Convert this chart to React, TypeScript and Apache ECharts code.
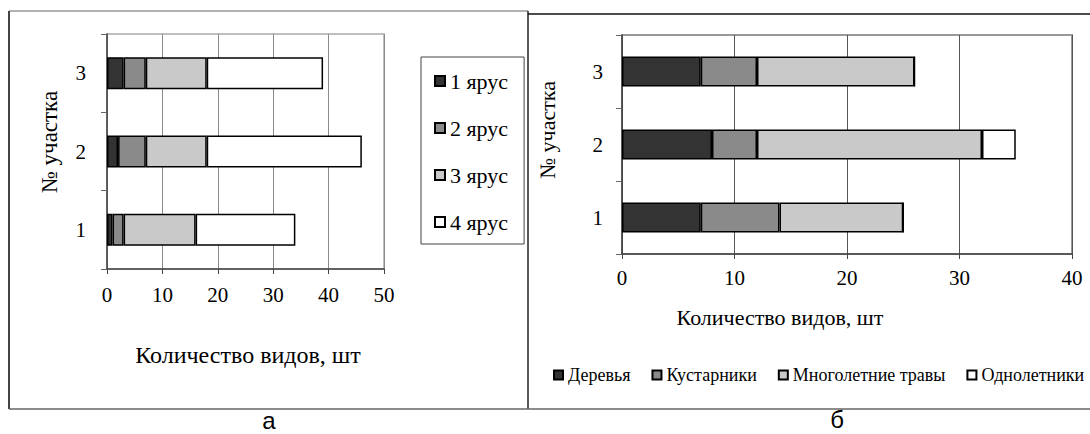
import React, { useEffect, useRef } from "react";
import * as echarts from "echarts";

const plots = ["1", "2", "3"];
const tierNames = ["1 ярус", "2 ярус", "3 ярус", "4 ярус"];
const tier1 = [1, 2, 3];
const tier2 = [2, 5, 4];
const tier3 = [13, 11, 11];
const tier4 = [18, 28, 21];

const lifeFormNames = ["Деревья", "Кустарники", "Многолетние травы", "Однолетники"];
const trees = [7, 8, 7];
const shrubs = [7, 4, 5];
const perennials = [11, 20, 14];
const annuals = [0, 3, 0];

const leftTicks = [0, 50, 10];
const rightTicks = [0, 40, 10];

const xTitle = "Количество видов, шт";
const yTitle = "№ участка";

const SERIF = "Liberation Serif";
const SANS = "Liberation Sans";
const fills = ["#333333", "#8a8a8a", "#c9c9c9", "#ffffff"];

export default function App() {
  const ref = useRef<HTMLDivElement>(null);

  useEffect(() => {
    if (!ref.current) return;
    const chart = echarts.init(ref.current, undefined, { renderer: "svg" });

    const mkX = (ticks: number[], grid: number, split: string, margin: number, fs: number) => ({
      type: "value",
      gridIndex: grid,
      min: ticks[0],
      max: ticks[1],
      interval: ticks[2],
      axisLine: { show: true, lineStyle: { color: "#444", width: 1.5 } },
      axisTick: { show: true, length: 5, lineStyle: { color: "#444" } },
      splitLine: { show: true, lineStyle: { color: split, width: 1 } },
      axisLabel: { color: "#000", fontFamily: SERIF, fontSize: fs, margin },
    });
    const mkY = (grid: number, margin: number, fs: number) => ({
      type: "category",
      gridIndex: grid,
      data: plots,
      axisLine: { show: true, lineStyle: { color: "#444", width: 1.5 } },
      axisTick: { show: true, length: 6, lineStyle: { color: "#666" } },
      axisLabel: { color: "#000", fontFamily: SERIF, fontSize: fs, margin },
    });

    const leftData = [tier1, tier2, tier3, tier4];
    const rightData = [trees, shrubs, perennials, annuals];

    const series: any[] = [];
    tierNames.forEach((n, i) => {
      series.push({
        name: n,
        type: "bar",
        stack: "left",
        xAxisIndex: 0,
        yAxisIndex: 0,
        barWidth: 32,
        data: leftData[i],
        itemStyle: { color: fills[i], borderColor: "#000", borderWidth: 1.5 },
      });
    });
    lifeFormNames.forEach((n, i) => {
      series.push({
        name: n,
        type: "bar",
        stack: "right",
        xAxisIndex: 1,
        yAxisIndex: 1,
        barWidth: 30,
        data: rightData[i],
        itemStyle: { color: fills[i], borderColor: "#000", borderWidth: 1.5 },
      });
    });

    const txt = (text: string, x: number, y: number, size: number, family: string, rot = 0) => ({
      type: "text",
      x,
      y,
      rotation: rot,
      style: {
        text,
        fill: "#000",
        fontSize: size,
        fontFamily: family,
        align: "center",
        verticalAlign: "middle",
      },
    });

    chart.setOption({
      animation: false,
      backgroundColor: "#fff",
      grid: [
        { left: 107, top: 34, width: 277, height: 235, show: true, borderColor: "#aaa", borderWidth: 1.5 },
        { left: 622, top: 35, width: 450, height: 219, show: true, borderColor: "#999", borderWidth: 2 },
      ],
      xAxis: [mkX(leftTicks, 0, "#8a8a8a", 15, 21), mkX(rightTicks, 1, "#555", 13, 21)],
      yAxis: [mkY(0, 21, 21), mkY(1, 19, 21)],
      legend: [
        {
          orient: "vertical",
          left: 421,
          top: 57,
          data: tierNames,
          icon: "rect",
          itemWidth: 10,
          itemHeight: 10,
          itemGap: 25,
          padding: [13, 16, 11, 13],
          borderColor: "#444",
          borderWidth: 1,
          textStyle: { color: "#000", fontFamily: SERIF, fontSize: 22, lineHeight: 22 },
        },
        {
          orient: "horizontal",
          left: 553,
          top: 366,
          width: 537,
          data: lifeFormNames,
          icon: "rect",
          itemWidth: 9,
          itemHeight: 9,
          itemGap: 21,
          padding: 0,
          textStyle: { color: "#000", fontFamily: SERIF, fontSize: 18, lineHeight: 18 },
        },
      ],
      graphic: [
        { type: "line", shape: { x1: 9, y1: 11, x2: 528, y2: 11 }, style: { stroke: "#999", lineWidth: 1.5 } },
        { type: "line", shape: { x1: 9, y1: 11, x2: 9, y2: 409 }, style: { stroke: "#444", lineWidth: 2 } },
        { type: "line", shape: { x1: 528, y1: 11, x2: 528, y2: 409 }, style: { stroke: "#222", lineWidth: 1.5 } },
        { type: "line", shape: { x1: 528, y1: 14, x2: 1090, y2: 14 }, style: { stroke: "#111", lineWidth: 1.5 } },
        { type: "line", shape: { x1: 9, y1: 409, x2: 1090, y2: 409 }, style: { stroke: "#666", lineWidth: 1.5 } },
        txt(xTitle, 248, 355, 24, SERIF),
        txt(xTitle, 780, 317, 22, SERIF),
        txt(yTitle, 49, 142, 23, SERIF, Math.PI / 2),
        txt(yTitle, 547, 130, 22, SERIF, Math.PI / 2),
        txt("а", 269, 420, 24, SANS),
        txt("б", 837, 419, 24, SANS),
      ],
      series,
    });

    return () => chart.dispose();
  }, []);

  return (
    <div
      ref={ref}
      style={{ position: "absolute", left: 0, top: 0, width: 1090, height: 434, background: "#fff" }}
    />
  );
}
